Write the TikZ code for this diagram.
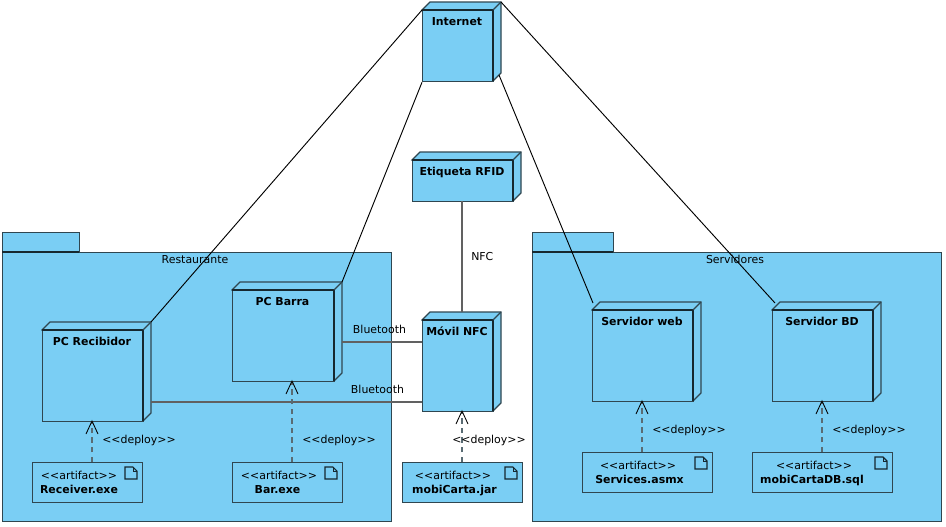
\documentclass[tikz,border=0pt]{standalone}
\usepackage{fontspec}
\setmainfont{DejaVu Sans}
\definecolor{fillblue}{HTML}{7ACEF4}
\definecolor{edgeblue}{HTML}{2F4650}
\definecolor{darkedge}{HTML}{16282F}
\tikzset{
  x=0.75pt,y=-0.75pt,
  txt/.style={font=\fontsize{8.2pt}{9.5pt}\selectfont,inner sep=0pt,text=black},
  boldtxt/.style={font=\fontsize{8.2pt}{9.5pt}\selectfont\bfseries,inner sep=0pt,text=black},
  shapebox/.style={draw=edgeblue,fill=fillblue,line width=1pt},
  heavy/.style={draw=darkedge,line width=1.2pt},
  link/.style={draw=black,line width=0.7pt},
  graylink/.style={draw=black!62,line width=0.85pt},
  deploy/.style={draw=edgeblue!80,line width=0.9pt,dash pattern=on 4pt off 3.2pt},
  deployhead/.style={draw=black,line width=0.65pt}
}
% \cube{name}{left}{top}{right}{bottom}{label}
\newcommand{\cube}[6]{%
  \fill[fillblue,draw=edgeblue,line width=1pt] (#2,#3)--(#2+8,#3-8)--(#4+8,#3-8)--(#4+8,#5-8)--(#4,#5)--cycle;
  \node[shapebox,anchor=north west,inner sep=0pt,minimum width={(#4-#2)*0.75pt},minimum height={(#5-#3)*0.75pt}] (#1) at (#2,#3) {};
  \draw[heavy] (#2,#3)--(#4,#3)--(#4,#5);
  \draw[edgeblue,line width=1pt] (#4,#3)--(#4+8,#3-8);
  \coordinate (#1-back) at (#4+8,#3-8);
  \node[boldtxt,anchor=base] (#1-label) at ({(#2+#4)/2-0.5},#3+15) {#6};
}
% \artifact{name}{left}{top}{right}{bottom}{name label}{stereotype x}{name x}
\newcommand{\artifact}[8]{%
  \node[shapebox,anchor=north west,inner sep=0pt,minimum width={(#4-#2)*0.75pt},minimum height={(#5-#3)*0.75pt}] (#1) at (#2,#3) {};
  \node[txt,anchor=base] (#1-st) at (#7,#3+17) {<{}<artifact>{}>};
  \node[boldtxt,anchor=base] (#1-nm) at (#8,#3+31) {#6};
  \draw[darkedge,line width=0.8pt,fill=fillblue] (#4-17,#3+5)--(#4-9,#3+5)--(#4-5,#3+9)--(#4-5,#3+17)--(#4-17,#3+17)--cycle;
  \draw[darkedge,line width=0.7pt] (#4-9,#3+5)--(#4-9,#3+9)--(#4-5,#3+9);
}
% \package{name}{left}{tabright}{right}{label}
\newcommand{\package}[5]{%
  \node[shapebox,anchor=north west,inner sep=0pt,minimum width={(#3-#2)*0.75pt},minimum height={20*0.75pt}] (#1-tab) at (#2,232) {};
  \node[shapebox,anchor=north west,inner sep=0pt,minimum width={(#4-#2)*0.75pt},minimum height={269*0.75pt}] (#1) at (#2,252) {};
  \draw[heavy] (#2,252)--(#3,252);
  \node[txt,anchor=base] (#1-label) at ({(#2+#4)/2-1.5},263) {#5};
}
\begin{document}
\begin{tikzpicture}
\useasboundingbox (0,0) rectangle (946,526);
\package{rest}{2}{79}{391}{Restaurante}
\package{serv}{532}{613}{941}{Servidores}

\cube{recibidor}{42}{330}{143}{421}{PC Recibidor}
\cube{barra}{232}{290}{334}{381}{PC Barra}
\cube{movil}{422}{320}{493}{411}{Móvil NFC}
\cube{web}{592}{310}{693}{401}{Servidor web}
\cube{bd}{772}{310}{873}{401}{Servidor BD}
\cube{rfid}{412}{160}{513}{201}{Etiqueta RFID}
\cube{internet}{422}{10}{493}{81}{Internet}

\artifact{receiver}{32}{462}{142}{502}{Receiver.exe}{79}{79}
\artifact{bar}{232}{462}{342}{502}{Bar.exe}{279}{277.5}
\artifact{carta}{402}{462}{522}{502}{mobiCarta.jar}{453}{454.5}
\artifact{services}{582}{452}{712}{492}{Services.asmx}{638}{639.5}
\artifact{sql}{752}{452}{892}{492}{mobiCartaDB.sql}{814}{812}

\coordinate (c1) at (342,282);
\coordinate (c2) at (499,75);
\coordinate (c3) at (593,303);
\coordinate (c4) at (775,303);
\coordinate (b1) at (342,342);
\coordinate (b2) at (422,342);
\coordinate (b3) at (151,402);
\coordinate (b4) at (422,402);
\coordinate (n1) at (462,201);
\coordinate (n2) at (462,312);

\draw[link] (internet.north west) -- (recibidor-back);
\draw[link] (internet.south west) -- (c1);
\draw[link] (c2) -- (c3);
\draw[link] (internet-back) -- (c4);
\draw[graylink] (n1) -- (n2);
\draw[graylink] (b1) -- (b2);
\draw[graylink] (b3) -- (b4);

\node[txt,anchor=base west] (nfc) at (471,260) {NFC};
\node[txt,anchor=base] (bt1) at (379.5,333) {Bluetooth};
\node[txt,anchor=base] (bt2) at (377.5,393) {Bluetooth};

\coordinate (d1a) at (92,462); \coordinate (d1b) at (92,421);
\coordinate (d2a) at (292,462); \coordinate (d2b) at (292,381);
\coordinate (d3a) at (462,462); \coordinate (d3b) at (462,411);
\coordinate (d4a) at (642,452); \coordinate (d4b) at (642,401);
\coordinate (d5a) at (822,452); \coordinate (d5b) at (822,401);
\foreach \a/\b in {d1a/d1b,d2a/d2b,d3a/d3b,d4a/d4b,d5a/d5b}{
  \draw[deploy] (\a) -- (\b);
  \draw[deployhead] ([shift={(-4.5pt,-9.75pt)}]\b) -- (\b) -- ([shift={(4.5pt,-9.75pt)}]\b);
}
\node[txt,anchor=base west] (l1) at (102,443) {<{}<deploy>{}>};
\node[txt,anchor=base west] (l2) at (302,443) {<{}<deploy>{}>};
\node[txt,anchor=base west] (l3) at (452,443) {<{}<deploy>{}>};
\node[txt,anchor=base west] (l4) at (652,433) {<{}<deploy>{}>};
\node[txt,anchor=base west] (l5) at (832,433) {<{}<deploy>{}>};
\end{tikzpicture}
\end{document}
